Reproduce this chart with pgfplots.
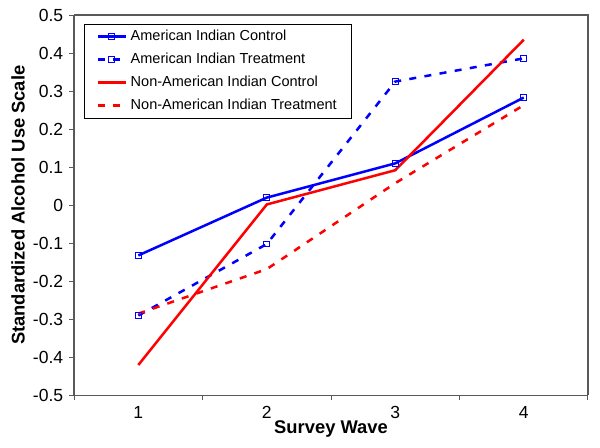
\documentclass[border=0pt]{standalone}
\usepackage{pgfplots}
\pgfplotsset{compat=1.18}
\usepackage{fontspec}
\setmainfont{Liberation Sans}

\definecolor{aiblue}{RGB}{0,0,255}
\definecolor{nonred}{RGB}{255,0,0}

\begin{document}
\begin{tikzpicture}
\begin{axis}[
    scale only axis,
    width=308pt,
    height=228pt,
    xmin=0.5, xmax=4.5,
    ymin=-0.5, ymax=0.5,
    xtick={1,2,3,4},
    major x tick style={draw=none},
    minor xtick={0.5,1.5,2.5,3.5,4.5},
    ytick={-0.5,-0.4,...,0.5},
    yticklabel style={/pgf/number format/fixed, /pgf/number format/precision=1},
    /pgf/number format/assume math mode=true,
    tick align=outside,
    major tick length=3pt,
    minor tick length=3pt,
    axis x line*=bottom,
    axis y line*=left,
    axis line style={gray!70!black, line width=0.8pt},
    every tick/.style={gray!70!black, line width=0.6pt},
    tick label style={font=\fontsize{10.5}{12}\selectfont},
    xlabel={\textbf{Survey Wave}},
    ylabel={\textbf{Standardized Alcohol Use Scale}},
    label style={font=\fontsize{11}{13}\selectfont},
    xlabel style={yshift=5.5pt},
    ylabel style={yshift=-2pt},
    legend style={at={(0.02,0.977)}, anchor=north west, draw=black,
        font=\fontsize{8.7}{10}\selectfont, row sep=2pt,
        inner xsep=7pt, inner ysep=1.5pt},
    legend cell align=left,
    legend image post style={},
    clip=false,
]
\coordinate (bl) at (rel axis cs:0,0);
\coordinate (tr) at (rel axis cs:1,1);
\draw[gray!70!black, line width=0.8pt] (rel axis cs:0,1) -- (rel axis cs:1,1) -- (rel axis cs:1,0);
\addplot[aiblue, line width=1.5pt, mark=square, mark size=1.75pt, mark options={solid, line width=0.6pt}]
    coordinates {(1,-0.132) (2,0.020) (3,0.110) (4,0.283)};
\addplot[aiblue, line width=1.5pt, dash pattern=on 4.2pt off 5pt, mark=square, mark size=1.75pt, mark options={solid, line width=0.6pt}]
    coordinates {(1,-0.290) (2,-0.102) (3,0.325) (4,0.386)};
\addplot[nonred, line width=1.5pt]
    coordinates {(1,-0.420) (2,0.002) (3,0.092) (4,0.435)};
\addplot[nonred, line width=1.5pt, dash pattern=on 4.2pt off 5pt]
    coordinates {(1,-0.285) (2,-0.168) (3,0.058) (4,0.263)};
\legend{American Indian Control,American Indian Treatment,Non-American Indian Control,Non-American Indian Treatment}
\end{axis}
\pgfresetboundingbox
\path ([shift={(-44.4pt,-31.2pt)}]bl) rectangle ([shift={(7.2pt,9pt)}]tr);
\end{tikzpicture}
\end{document}
